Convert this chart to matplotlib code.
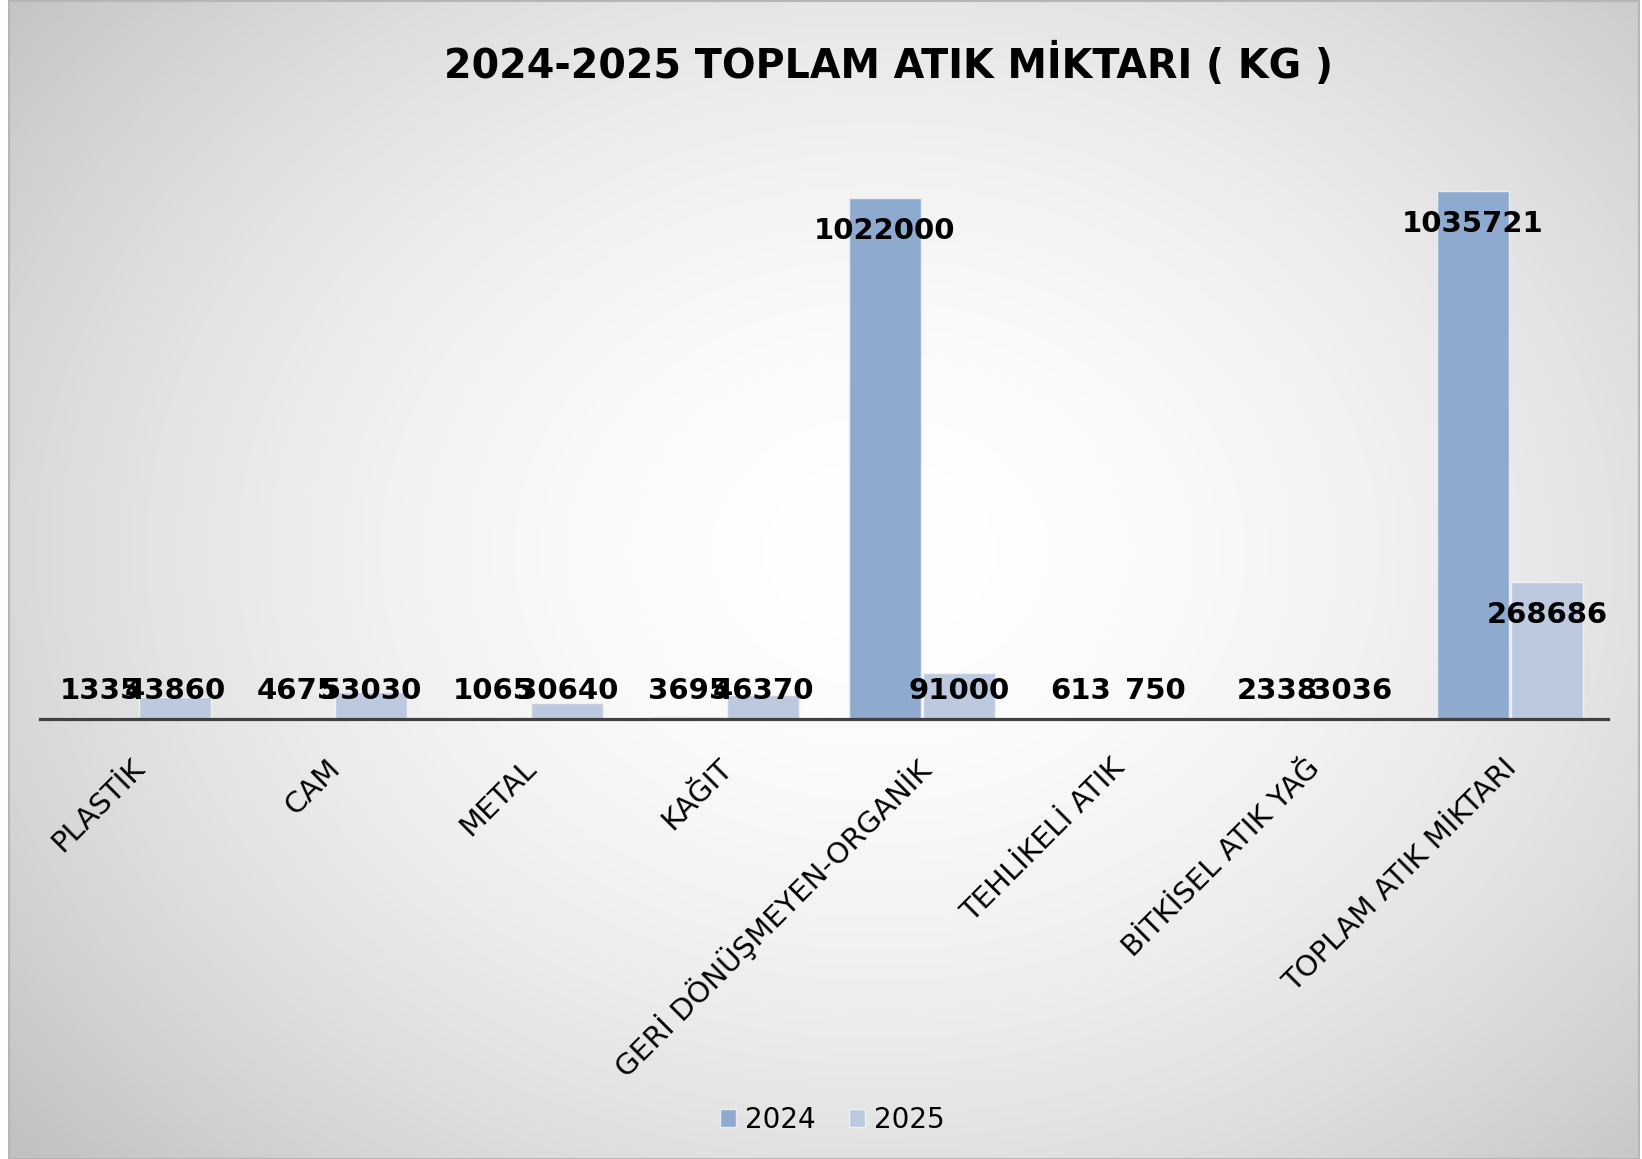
import numpy as np
import matplotlib
matplotlib.use('Agg')
import matplotlib.pyplot as plt
from matplotlib.patches import Rectangle
from matplotlib.transforms import ScaledTranslation

categories=['PLASTİK','CAM','METAL','KAĞIT','GERİ DÖNÜŞMEYEN-ORGANİK','TEHLİKELİ ATIK','BİTKİSEL ATIK YAĞ','TOPLAM ATIK MİKTARI']
vals_2024=[1335,4675,1065,3695,1022000,613,2338,1035721]
vals_2025=[43860,53030,30640,46370,91000,750,3036,268686]
series_names=['2024','2025']
title='2024-2025 TOPLAM ATIK MİKTARI ( KG )'

c2024='#8FAACF'
c2025='#BDC9DF'
W,H=1642,1159

plt.rcParams['font.family']=['DejaVu Sans']
fig=plt.figure(figsize=(W/100.,H/100.),dpi=100)
fig.patch.set_facecolor('white')

# radial grey background
bg=fig.add_axes([9./W,0,1630./W,1158./H])
yy,xx=np.mgrid[0:1158,0:1630]
cx,cy=870.,550.
d=np.sqrt(((xx-cx)/950.)**2+((yy-cy)/760.)**2)
t=np.clip(d/1.2,0,1)**1.8
g=(255-62*t)/255.
bg.imshow(np.dstack([g,g,g]),aspect='auto',interpolation='bilinear')
bg.set_axis_off()
fig.add_artist(Rectangle((9./W,0),1630./W,1158./H,transform=fig.transFigure,fill=False,edgecolor='#b5b5b5',lw=1.5))

ax=fig.add_axes([40./W,1-719./H,1568./W,612./H])
ax.patch.set_alpha(0)
x=np.arange(len(categories))
bw=0.365
off=0.19
b1=ax.bar(x-off,vals_2024,bw,color=c2024,edgecolor='#e8edf5',lw=1,label=series_names[0],zorder=2)
b2=ax.bar(x+off,vals_2025,bw,color=c2025,edgecolor='#eef1f7',lw=1,label=series_names[1],zorder=2)
ax.set_xlim(-0.5,len(categories)-0.5)
ax.set_ylim(0,1200000)
for s in ['top','left','right']:
    ax.spines[s].set_visible(False)
ax.spines['bottom'].set_color('#404040')
ax.spines['bottom'].set_linewidth(2.3)
ax.spines['bottom'].set_zorder(3)
ax.set_yticks([])
ax.set_xticks(x)
ax.set_xticklabels(categories,rotation=45,ha='right',rotation_mode='anchor',fontsize=21)
ax.tick_params(axis='x',length=0,pad=25)
for lab in ax.get_xticklabels():
    lab.set_transform(lab.get_transform()+ScaledTranslation(-8/100.,0,fig.dpi_scale_trans))

# data labels (inside end, kept above the axis)
fig.canvas.draw()
k=ax.transData.transform((0,1))[1]-ax.transData.transform((0,0))[1]
for xs,vs in [(x-off,vals_2024),(x+off,vals_2025)]:
    for xi,v in zip(xs,vs):
        yl=max(v-33/k,28/k)
        ax.text(xi,yl,'%d'%v,ha='center',va='center',fontsize=21,fontweight='bold',color='black',zorder=4)

fig.text(888./W,1-65./H,title,ha='center',va='center',fontsize=28.5,fontweight='bold')
fig.legend(handles=[b1,b2],labels=series_names,loc='center',bbox_to_anchor=(832./W,1-1120./H),ncol=2,frameon=False,
           fontsize=20,handlelength=0.6,handleheight=0.6,handletextpad=0.3,columnspacing=1.2)

fig.savefig('out.png',dpi=100)
